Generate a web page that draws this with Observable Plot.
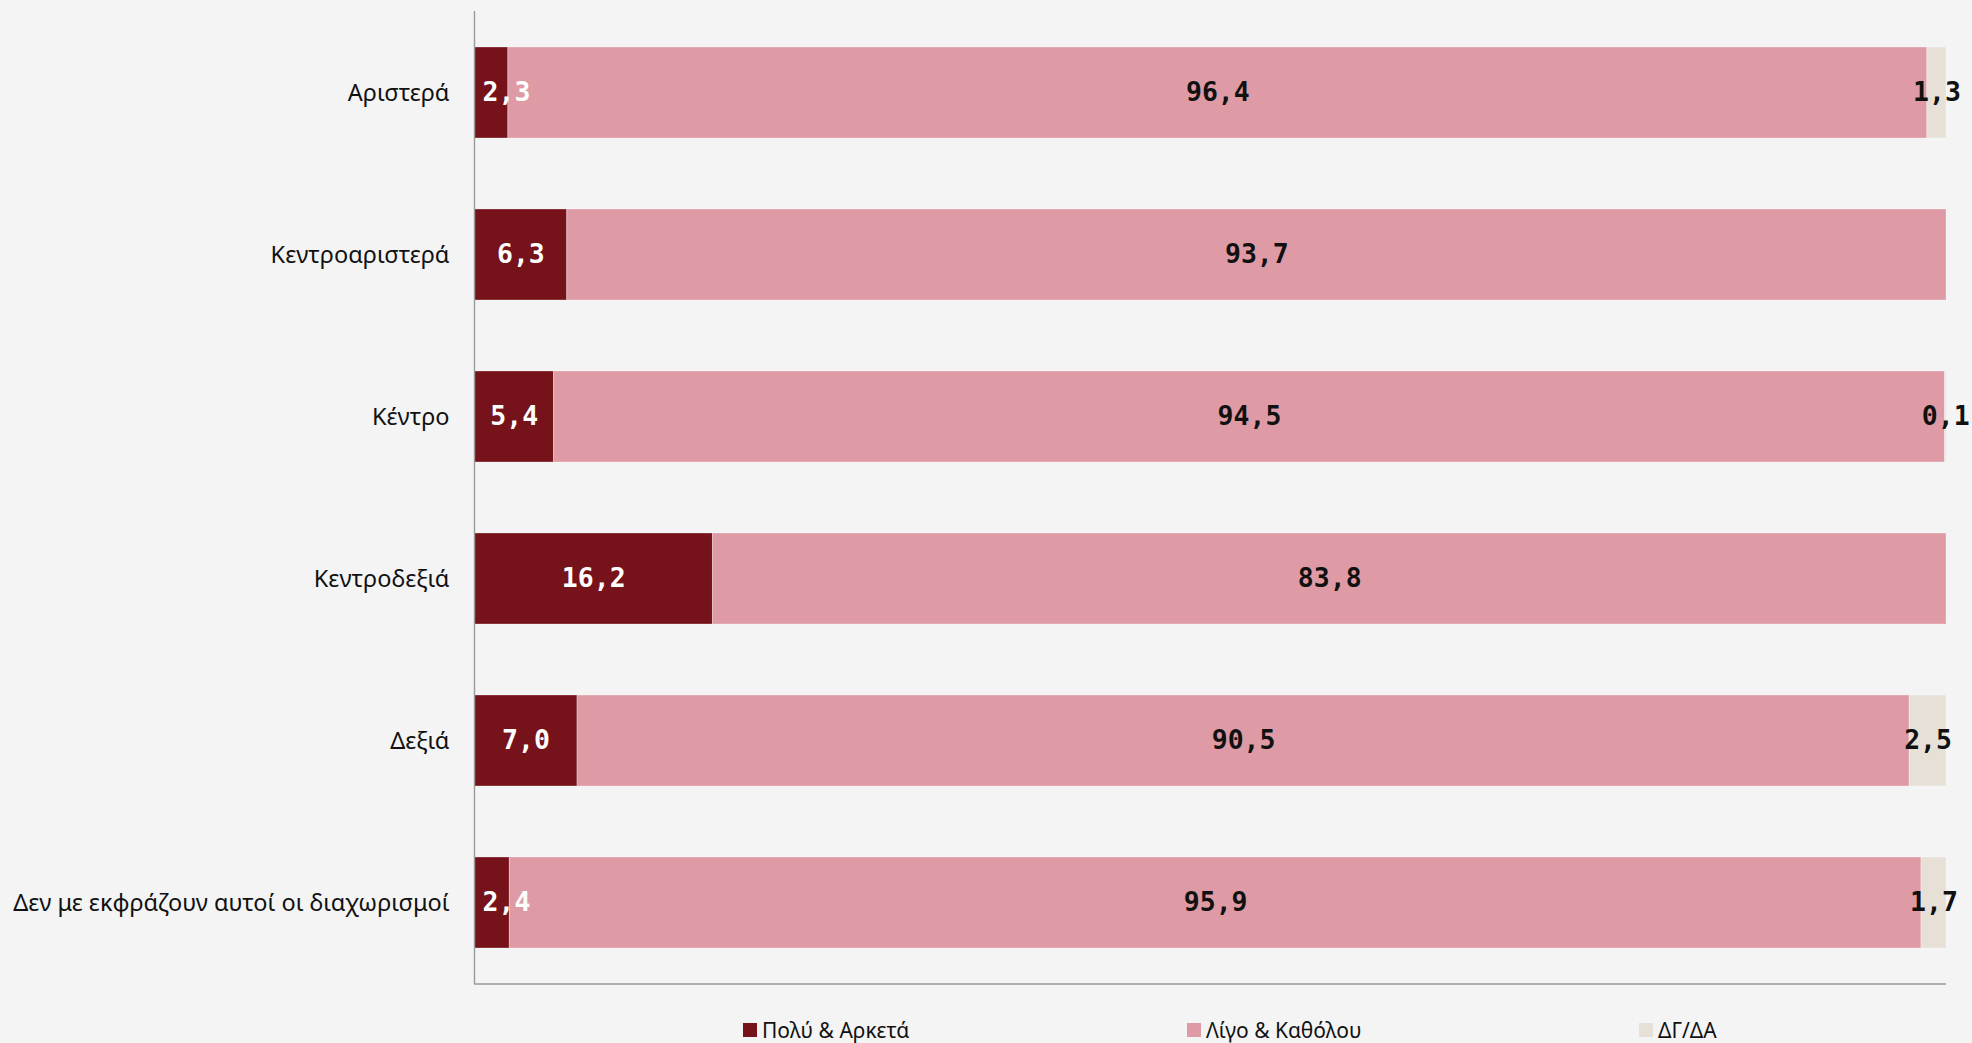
<!DOCTYPE html>
<html>
<head>
<meta charset="utf-8">
<script src="https://cdn.jsdelivr.net/npm/d3@7"></script>
<script src="https://cdn.jsdelivr.net/npm/@observablehq/plot@0.6"></script>
<style>
  html, body { margin: 0; padding: 0; background: #f4f4f4; }
  #chart svg { display: block; }
  #legend { position: relative; height: 43px; font-family: "Noto Sans", sans-serif; font-size: 21px; color: #111; }
  #legend .item { position: absolute; top: 19px; display: flex; align-items: center; line-height: 22px; white-space: nowrap; }
  #legend .sw { width: 14px; height: 14px; margin-right: 5px; flex-shrink: 0; }
</style>
</head>
<body>
<div id="chart"></div>
<div id="legend"></div>
<script>
const categories = [
  "Αριστερά",
  "Κεντροαριστερά",
  "Κέντρο",
  "Κεντροδεξιά",
  "Δεξιά",
  "Δεν με εκφράζουν αυτοί οι διαχωρισμοί"
];
const seriesNames = ["Πολύ & Αρκετά", "Λίγο & Καθόλου", "ΔΓ/ΔΑ"];
const poly = [2.3, 6.3, 5.4, 16.2, 7.0, 2.4];
const ligo = [96.4, 93.7, 94.5, 83.8, 90.5, 95.9];
const dgda = [1.3, 0, 0.1, 0, 2.5, 1.7];
const seriesColors = ["#76121a", "#de9ba5", "#e6e0d7"];
const legendLeft = [743, 1187, 1639];

const seriesValues = [poly, ligo, dgda];
const rows = [];
categories.forEach((cat, i) => {
  let acc = 0;
  seriesValues.forEach((vals, s) => {
    const v = vals[i];
    rows.push({cat, series: seriesNames[s], s, value: v, x1: acc, x2: acc + v});
    acc += v;
  });
});
const fmt = v => v.toFixed(1).replace(".", ",");
const labelRows = rows.filter(d => d.value > 0);
const narrowFirst = d => d.s === 0 && d.value < 4;

const baseline = (index, scales, values, dims) => {
  const g = d3.create("svg:g");
  g.append("line")
    .attr("x1", scales.x(0)).attr("x2", scales.x(100))
    .attr("y1", dims.height - dims.marginBottom).attr("y2", dims.height - dims.marginBottom)
    .attr("stroke", "#9a9a9a").attr("stroke-width", 1.4);
  return g.node();
};

const chart = Plot.plot({
  width: 1972,
  height: 1000,
  marginLeft: 474,
  marginRight: 26,
  marginTop: 11,
  marginBottom: 16,
  style: {background: "#f4f4f4"},
  x: {domain: [0, 100], axis: null},
  y: {domain: categories, paddingInner: 0.44, paddingOuter: 0.22, label: null},
  color: {domain: seriesNames, range: seriesColors},
  marks: [
    Plot.barX(rows, {
      y: "cat", x1: "x1", x2: "x2", fill: "series",
      stroke: "#ffffff", strokeOpacity: 0.3, strokeWidth: 1
    }),
    Plot.ruleX([0], {stroke: "#9a9a9a", strokeWidth: 1.4}),
    baseline,
    Plot.axisY({
      tickSize: 0, tickPadding: 25, fontSize: 23.5,
      fontFamily: "Noto Sans", fill: "#111", label: null
    }),
    Plot.text(labelRows.filter(d => !narrowFirst(d)), {
      y: "cat", x: d => (d.x1 + d.x2) / 2, text: d => fmt(d.value),
      fill: d => d.s === 0 ? "#ffffff" : "#111111",
      fontFamily: "DejaVu Sans Mono", fontWeight: "bold", fontSize: 26.5
    }),
    Plot.text(labelRows.filter(narrowFirst), {
      y: "cat", x: "x1", dx: 8, textAnchor: "start", text: d => fmt(d.value),
      fill: "#ffffff",
      fontFamily: "DejaVu Sans Mono", fontWeight: "bold", fontSize: 26.5
    })
  ]
});
document.getElementById("chart").appendChild(chart);

const legend = document.getElementById("legend");
seriesNames.forEach((name, i) => {
  const item = document.createElement("div");
  item.className = "item";
  item.style.left = legendLeft[i] + "px";
  const sw = document.createElement("span");
  sw.className = "sw";
  sw.style.background = seriesColors[i];
  const t = document.createElement("span");
  t.textContent = name;
  item.appendChild(sw);
  item.appendChild(t);
  legend.appendChild(item);
});
</script>
</body>
</html>
